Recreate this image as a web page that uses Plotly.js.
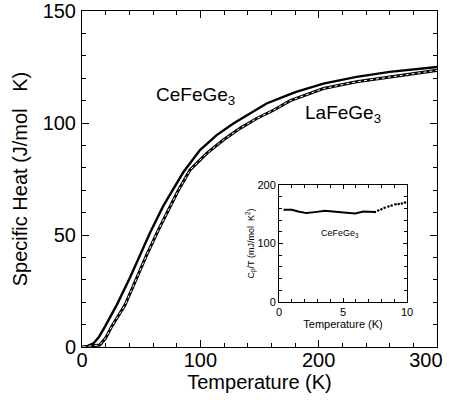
<!DOCTYPE html>
<html>
<head>
<meta charset="utf-8">
<script src="https://cdn.plot.ly/plotly-3.0.1.min.js"></script>
<style>html,body{margin:0;padding:0;background:#fff;}#chart{width:453px;height:402px;}</style>
</head>
<body>
<div id="chart"></div>
<script>
// Main panel: specific heat vs temperature
const ceT = [0.5, 5, 9.6, 14.5, 19.4, 29.3, 40.6, 49, 57.5, 68.7, 78, 85.6, 99.7, 113.8, 127.9, 142, 156, 170, 181, 204, 232, 260, 288, 300];
const ceC = [0.1, 0.5, 1.6, 4.6, 9.1, 18.7, 31, 41, 51, 63, 71, 78, 87.9, 94.6, 99.8, 104.3, 108.7, 111.7, 113.9, 117.6, 120.6, 122.8, 124.3, 125];
const laT = [0.5, 10, 15, 20, 25, 36.3, 46.2, 54.6, 64.5, 74.4, 81, 91.3, 105.4, 119.4, 133.5, 147.6, 161.7, 176, 204, 232, 260, 288, 300];
const laC = [0.05, 0.4, 0.9, 4, 9.1, 18.7, 31, 41, 52.2, 62.6, 69.5, 79, 86.4, 92.4, 97.6, 102, 105.7, 110, 115.4, 118.4, 120.6, 122.5, 123.5];
// Inset: Cp/T vs T for CeFeGe3
const inT1 = [0.35, 1.0, 1.5, 2.15, 2.8, 3.6, 4.4, 5.2, 5.95, 6.6, 7.1, 7.5];
const inC1 = [157.6, 157.6, 154.8, 152, 153.7, 156, 154.2, 152.5, 151.4, 154.8, 154.8, 153.7];
const inT2 = [7.5, 7.75, 8.0, 8.25, 8.55, 8.8, 9.1, 9.35, 9.6, 9.85, 10.1];
const inC2 = [153.7, 156.5, 158.8, 161, 163.3, 165, 167.2, 167.6, 168.4, 170, 171.8];
// Tick labels
const mainXTicks = [0, 100, 200, 300];
const mainXText = ['0', '100', '200', '300&nbsp;&nbsp;&nbsp;&nbsp;'];
const mainYTicks = [0, 50, 100, 150];
const insetXTicks = [0, 5, 10];
const insetYTicks = [0, 100, 200];

const FONT = 'Liberation Sans, Arial, Helvetica, sans-serif';

const traces = [
  {x: ceT, y: ceC, mode: 'lines', line: {color: '#000', width: 2.4}, xaxis: 'x', yaxis: 'y', hoverinfo: 'skip'},
  {x: laT, y: laC, mode: 'lines', line: {color: '#000', width: 3}, xaxis: 'x', yaxis: 'y', hoverinfo: 'skip'},
  {x: laT, y: laC, mode: 'lines', line: {color: '#fff', width: 1, dash: 'dot'}, xaxis: 'x', yaxis: 'y', hoverinfo: 'skip'},
  {x: inT1, y: inC1, mode: 'lines', line: {color: '#000', width: 2}, xaxis: 'x2', yaxis: 'y2', hoverinfo: 'skip'},
  {x: inT2, y: inC2, mode: 'markers', marker: {color: '#000', size: 2.5}, xaxis: 'x2', yaxis: 'y2', hoverinfo: 'skip'}
];

const mainAxis = {
  showgrid: false, zeroline: false, showline: true, linecolor: '#000', linewidth: 1,
  mirror: 'allticks', ticks: 'inside', ticklen: 7, tickwidth: 1, tickcolor: '#000',
  ticklabeloverflow: 'allow',
  tickfont: {family: FONT, size: 20, color: '#000'}
};
const insetAxis = {
  showgrid: false, zeroline: false, showline: true, linecolor: '#000', linewidth: 1,
  mirror: 'allticks', ticks: 'inside', ticklen: 4, tickwidth: 1, tickcolor: '#000',
  tickfont: {family: FONT, size: 11, color: '#000'}
};

const layout = {
  width: 453, height: 402,
  margin: {l: 82, r: 16, t: 11, b: 55},
  paper_bgcolor: '#fff', plot_bgcolor: 'rgba(0,0,0,0)',
  showlegend: false,
  font: {family: FONT, color: '#000'},
  xaxis: Object.assign({}, mainAxis, {
    range: [0, 300], tickmode: 'array', tickvals: mainXTicks, ticktext: mainXText, domain: [0, 1],
    ticklabelstandoff: -5,
    minor: {dtick: 20, ticklen: 4, ticks: 'inside', tickcolor: '#000'},
    title: {text: 'Temperature (K)', font: {family: FONT, size: 20, color: '#000'}, standoff: 0}
  }),
  yaxis: Object.assign({}, mainAxis, {
    range: [0, 150], tickmode: 'array', tickvals: mainYTicks, domain: [0, 1],
    ticklabelstandoff: 1,
    minor: {dtick: 10, ticklen: 4, ticks: 'inside', tickcolor: '#000'},
    title: {text: 'Specific Heat (J/mol&nbsp;&nbsp;&nbsp;K)', font: {family: FONT, size: 20, color: '#000'}, standoff: 9}
  }),
  xaxis2: Object.assign({}, insetAxis, {
    anchor: 'y2', domain: [0.555, 0.9155], range: [0, 10], tickmode: 'array', tickvals: insetXTicks,
    minor: {dtick: 1, ticklen: 3, ticks: 'inside', tickcolor: '#000'},
    title: {text: 'Temperature (K)', font: {family: FONT, size: 11, color: '#000'}, standoff: 2}
  }),
  yaxis2: Object.assign({}, insetAxis, {
    anchor: 'x2', domain: [0.134, 0.482], range: [0, 200], tickmode: 'array', tickvals: insetYTicks,
    minor: {dtick: 20, ticklen: 3, ticks: 'inside', tickcolor: '#000'},
    title: {text: 'C<sub>p</sub>/T (mJ/mol&nbsp;&nbsp;K<sup>2</sup>)', font: {family: FONT, size: 9, color: '#000'}, standoff: 0}
  }),
  annotations: [
    {xref: 'paper', yref: 'paper', x: (195 - 82) / 355, y: (347 - 96) / 336, text: 'CeFeGe<sub>3</sub>', showarrow: false,
     font: {family: FONT, size: 19, color: '#000'}, xanchor: 'center', yanchor: 'middle'},
    {xref: 'paper', yref: 'paper', x: (343 - 82) / 355, y: (347 - 114) / 336, text: 'LaFeGe<sub>3</sub>', showarrow: false,
     font: {family: FONT, size: 19, color: '#000'}, xanchor: 'center', yanchor: 'middle'},
    {xref: 'x2', yref: 'y2', x: 4.75, y: 117, text: 'CeFeGe<sub>3</sub>', showarrow: false,
     font: {family: FONT, size: 9, color: '#000'}, xanchor: 'center', yanchor: 'middle'}
  ],
  shapes: [
    {type: 'rect', xref: 'x2 domain', yref: 'y2 domain', x0: 0, x1: 1, y0: 0, y1: 1, fillcolor: '#fff', line: {width: 0}, layer: 'below'}
  ]
};

Plotly.newPlot('chart', traces, layout, {staticPlot: true, displayModeBar: false});
</script>
</body>
</html>
